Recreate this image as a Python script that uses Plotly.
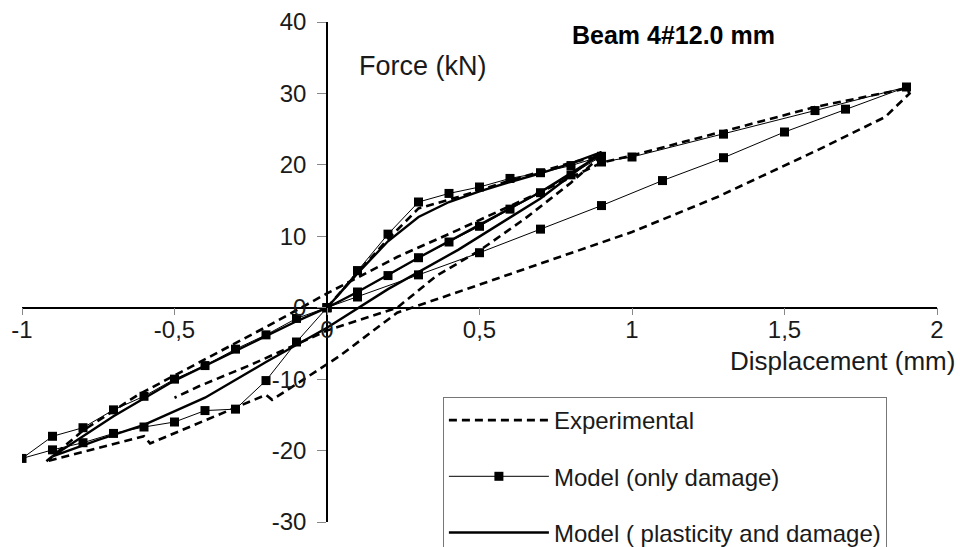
import plotly.graph_objects as go

# ---- tick labels ----
x_tick_vals = [-1, -0.5, 0, 0.5, 1, 1.5, 2]
x_tick_text = ["-1", "-0,5", "0", "0,5", "1", "1,5", "2"]
y_tick_vals = [-30, -20, -10, 0, 10, 20, 30, 40]
y_tick_text = ["-30", "-20", "-10", "0", "10", "20", "30", "40"]

# ---- Experimental (dashed) : displacement (mm), force (kN); None = break ----
exp_x = [0, 0.1, 0.2, 0.3, 0.43, 0.6, 0.8, 0.9,
         0.8, 0.65, 0.5, 0.36, 0.23, 0.0, -0.25, -0.42, -0.5,
         None,
         -0.92, -0.8, -0.62, -0.42, -0.2, 0.0, 0.23, 0.43, 0.7, 0.9, 1.0, 1.3, 1.6, 1.9,
         1.91, 1.83, 1.61, 1.28, 1.0, 0.45, 0.23, 0.04, -0.18, -0.2, -0.58, -0.6, -0.9, -0.92]
exp_f = [0, 4.9, 9.6, 13.9, 15.5, 17.8, 20.3, 21.3,
         17.5, 12.5, 8.0, 4.5, 0.0, -3.2, -8.0, -11.0, -12.6,
         None,
         -21.5, -17.2, -12.2, -7.7, -2.7, 2.0, 7.1, 10.9, 16.2, 20.3, 21.3, 24.7, 28.1, 30.7,
         30.0, 26.7, 22.1, 15.5, 10.6, 2.5, -0.7, -6.8, -12.9, -12.2, -19.0, -18.0, -21.3, -21.5]

# ---- Model (only damage) : thin line with square markers ----
dmg_x = [0, 0.1, 0.2, 0.3, 0.4, 0.5, 0.6, 0.7, 0.8, 0.9,
         0.8, 0.7, 0.6, 0.5, 0.4, 0.3, 0.2, 0.1, 0,
         -0.1, -0.2, -0.3, -0.4, -0.5, -0.6, -0.7, -0.8, -0.9, -1.0,
         -0.9, -0.8, -0.7, -0.6, -0.5, -0.4, -0.3, -0.2, -0.1, 0,
         0.1, 0.3, 0.5, 0.7, 0.9, 1.1, 1.3, 1.5, 1.7, 1.9,
         1.6, 1.3, 1.0, 0.9]
dmg_f = [0, 5.2, 10.3, 14.8, 16.0, 16.9, 18.1, 18.9, 19.9, 21.2,
         18.6, 16.1, 13.8, 11.4, 9.2, 7.0, 4.5, 2.2, 0,
         -4.8, -10.2, -14.2, -14.4, -16.0, -16.7, -17.6, -18.9, -19.9, -21.1,
         -18.0, -16.8, -14.3, -12.4, -10.0, -8.1, -5.8, -3.8, -1.5, 0,
         1.5, 4.6, 7.7, 11.0, 14.3, 17.8, 21.0, 24.6, 27.8, 30.9,
         27.6, 24.3, 21.1, 20.4]

# ---- Model (plasticity and damage) : thick solid line ----
pls_x = [0, 0.1, 0.2, 0.3, 0.4, 0.5, 0.6, 0.7, 0.8, 0.9,
         0.7, 0.43, 0.2, 0.0, -0.2, -0.4, -0.6, -0.75, -0.9,
         -0.7, -0.5, -0.3, -0.1, 0.0,
         0.1, 0.3, 0.5, 0.7, 0.9]
pls_f = [0, 4.8, 9.3, 12.7, 14.8, 16.3, 17.6, 18.8, 20.2, 21.8,
         15.3, 8.1, 2.6, -2.8, -7.6, -12.6, -16.4, -18.5, -20.8,
         -15.2, -10.2, -6.0, -1.9, 0.0,
         2.2, 7.0, 11.6, 16.2, 21.5]

FONT = "Liberation Sans, Arial, sans-serif"

fig = go.Figure()
fig.add_trace(go.Scatter(x=exp_x, y=exp_f, mode="lines", name="Experimental",
                         line=dict(color="black", width=2.6, dash="8px,5px"),
                         connectgaps=False, legendgroup="a"))
fig.add_trace(go.Scatter(x=dmg_x, y=dmg_f, mode="lines+markers", name="Model (only damage)",
                         line=dict(color="black", width=1),
                         marker=dict(symbol="square", size=9, color="black"),
                         legendgroup="b"))
fig.add_trace(go.Scatter(x=pls_x, y=pls_f, mode="lines", name="Model ( plasticity and damage)",
                         line=dict(color="black", width=2.4),
                         legendgroup="c"))

fig.update_layout(
    width=960, height=547,
    margin=dict(l=22, r=23, t=22, b=25, autoexpand=False),
    paper_bgcolor="white", plot_bgcolor="white",
    font=dict(family=FONT, size=24, color="#1a1a1a"),
    showlegend=True,
    legend=dict(x=0.460, y=0.25, xanchor="left", yanchor="top",
                bgcolor="white", bordercolor="#777777", borderwidth=1,
                font=dict(size=24, family=FONT, color="#1a1a1a"),
                itemwidth=100, tracegroupgap=22, traceorder="grouped"),
    xaxis=dict(range=[-1, 2], tickvals=x_tick_vals, ticktext=x_tick_text,
               anchor="free", position=30 / 70, side="bottom",
               showline=True, linecolor="black", linewidth=1.5,
               ticks="outside", ticklen=7, tickcolor="#888888", tickwidth=1,
               ticklabelstandoff=-6,
               showgrid=False, zeroline=False, automargin=False,
               tickfont=dict(size=24, family=FONT, color="#1a1a1a")),
    yaxis=dict(range=[-30, 40], tickvals=y_tick_vals, ticktext=y_tick_text,
               anchor="free", position=1 / 3, side="left",
               showline=True, linecolor="black", linewidth=1.5,
               ticks="outside", ticklen=9, tickcolor="#888888", tickwidth=1,
               ticklabelstandoff=6,
               showgrid=False, zeroline=False, automargin=False,
               tickfont=dict(size=24, family=FONT, color="#1a1a1a")),
    annotations=[
        dict(text="Force (kN)", xref="paper", yref="paper", x=0.366, y=0.912,
             xanchor="left", yanchor="middle", showarrow=False,
             font=dict(size=27, family=FONT, color="#1a1a1a")),
        dict(text="Displacement (mm)", xref="paper", yref="paper", x=1.022, y=0.322,
             xanchor="right", yanchor="middle", showarrow=False,
             font=dict(size=26, family=FONT, color="#1a1a1a")),
        dict(text="<b>Beam 4#12.0 mm</b>", xref="paper", yref="paper", x=0.599, y=0.974,
             xanchor="left", yanchor="middle", showarrow=False,
             font=dict(size=25, family=FONT, color="black")),
    ],
)

fig.write_html("out.html")
